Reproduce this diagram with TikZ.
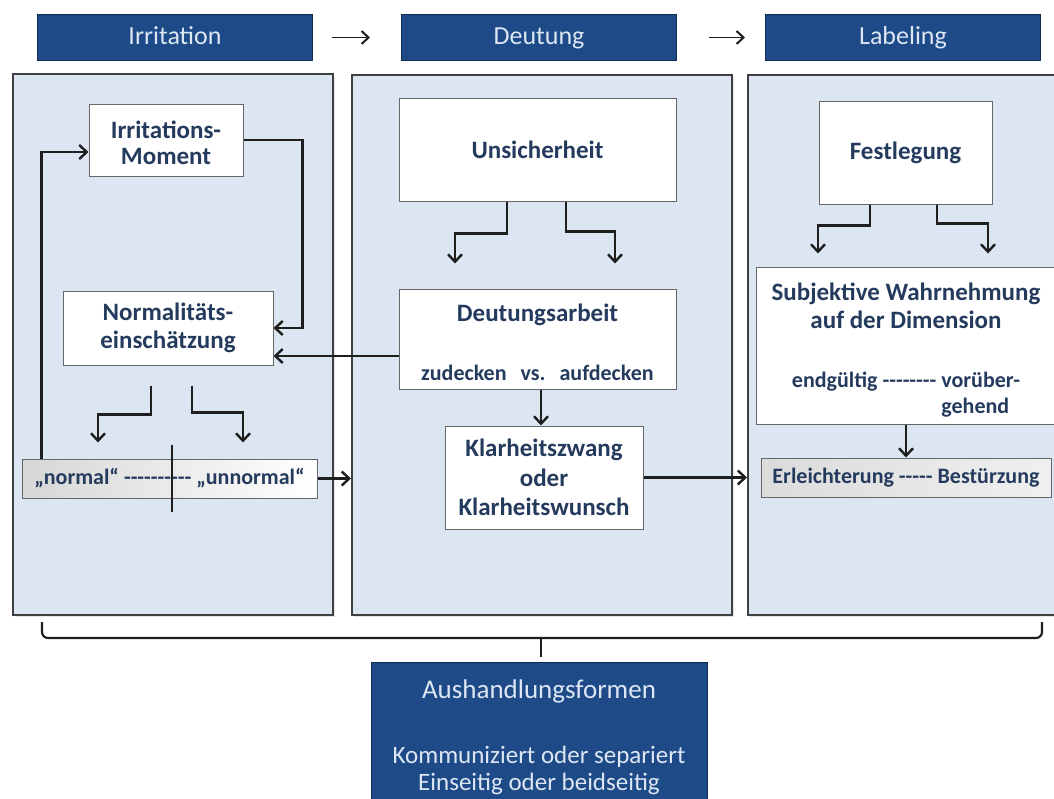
\documentclass[tikz,border=0pt]{standalone}
\usepackage{fontspec}
\setmainfont{Carlito}[Ligatures=TeXOff]
\usetikzlibrary{positioning,calc,arrows.meta,shadows}

\definecolor{headblue}{HTML}{1E4B87}
\definecolor{panelblue}{HTML}{DCE6F2}
\definecolor{textnavy}{HTML}{243B5E}
\definecolor{headtext}{HTML}{DDE7F4}
\definecolor{linegray}{HTML}{1E1E1E}

\begin{document}
\begin{tikzpicture}[
    x=1pt, y=-1pt,
    header/.style={rectangle, draw=headblue!60!black, line width=1pt, fill=headblue, text=headtext, font=\fontsize{26}{30}\selectfont, minimum width=275pt, minimum height=46pt, inner sep=0pt, text height=18pt, text depth=5pt},
    panel/.style={rectangle, draw=black!75, line width=2pt, fill=panelblue, anchor=north west, drop shadow={opacity=0.2, shadow xshift=1.5pt, shadow yshift=-1.5pt}},
    block/.style={rectangle, draw=black!60, line width=1pt, fill=white, text=textnavy, font=\fontsize{25}{28}\selectfont\bfseries, align=center, inner sep=0pt},
    scalebox/.style={block, left color=black!16, right color=white, font=\fontsize{22}{26}\selectfont\bfseries},
    darkbox/.style={rectangle, draw=headblue!60!black, line width=1pt, fill=headblue, text=headtext, align=center, inner sep=0pt},
    arrow/.style={-{Straight Barb[length=7.5pt, width=14pt, line width=2.4pt]}, line width=2.1pt, draw=linegray},
    thinarrow/.style={-{Straight Barb[length=7pt, width=13pt, line width=2pt]}, line width=1.5pt, draw=linegray},
    wire/.style={line width=2.1pt, draw=linegray}
]
\clip (0,0) rectangle (1054,798);
\fill[white] (0,0) rectangle (1054,798);

% Headers
\node[header] (hirr) at (175,37.5) {Irritation};
\node[header] (hdeut) at (539,37.5) {Deutung};
\node[header] (hlab) at (903,37.5) {Labeling};
\draw[thinarrow, shorten <=19pt, shorten >=31pt] (hirr) -- (hdeut);
\draw[thinarrow, shorten <=32pt, shorten >=20pt] (hdeut) -- (hlab);

% Panels
\node[panel, minimum width=320pt, minimum height=541pt] (pirr) at (12,73) {};
\node[panel, minimum width=380pt, minimum height=540pt] (pdeut) at (351,74) {};
\node[panel, minimum width=320pt, minimum height=540pt] (plab) at (747,74) {};

% Irritation
\node[block, minimum width=154pt, minimum height=72pt, font=\fontsize{25}{26.5}\selectfont\bfseries] (moment) at (166,140) {\rule{0pt}{23pt}Irritations-\\Moment};
\node[block, minimum width=210pt, minimum height=74pt] (normal) at (168,328) {Normalitäts-\\einschätzung};
\node[scalebox, minimum width=295pt, minimum height=39pt] (scale) at (169.5,478.5) {„normal“ ---------- „unnormal“};
\draw[wire] ($(scale.north)+(2.5,-14)$) -- ($(scale.south)+(2.5,13)$);

\draw[arrow] (moment.east) -- ++(59,0) |- (normal.east);
\draw[arrow] ($(scale.north west)+(20,0)$) |- ([yshift=-12pt]moment.west);
\draw[arrow] ($(normal.south)+(-17,20)$) -- ++(0,29) -| ++(-53,28);
\draw[arrow] ($(normal.south)+(24,20)$) -- ++(0,27) -| ++(51,30);
\draw[arrow] (scale.east) -- (scale.east -| pdeut.west);

% Deutung
\node[block, minimum width=277pt, minimum height=103pt] (unsich) at (537.5,149.5) {Unsicherheit};
\node[block, minimum width=277pt, minimum height=100pt, font=\fontsize{22}{26}\selectfont\bfseries] (arbeit) at (537.5,339) {\rule{0pt}{24pt}{\fontsize{25}{28}\selectfont Deutungsarbeit}\\[33pt]zudecken\hspace{14pt}vs.\hspace{14pt}aufdecken};
\node[block, minimum width=198pt, minimum height=103pt, font=\fontsize{25}{29.5}\selectfont\bfseries] (klar) at (544,477.5) {Klarheitszwang\\oder\\Klarheitswunsch};

\draw[arrow] ($(unsich.south)+(-30.5,0)$) -- ++(0,32) -| ++(-52,30);
\draw[arrow] ($(unsich.south)+(28.5,0)$) -- ++(0,30) -| ++(49,32);
\draw[arrow] ([yshift=-17pt]arbeit.west) -- ([yshift=-17pt]arbeit.west -| normal.east);
\draw[arrow] ([xshift=3.5pt]arbeit.south) -- ([xshift=3.5pt]arbeit.south |- klar.north);
\draw[arrow] (klar.east) -- (klar.east -| plab.west);

% Labeling
\node[block, minimum width=173pt, minimum height=103pt] (fest) at (905.5,152.5) {Festlegung};
\node[block, minimum width=300pt, minimum height=157pt] (subj) at (906,345.5) {\rule{0pt}{30pt}Subjektive Wahrnehmung\\auf der Dimension\\[31pt]{\fontsize{22}{26}\selectfont endgültig -------- \begin{tabular}[t]{@{}l@{}}vorüber-\\gehend\end{tabular}}};
\node[scalebox, left color=black!14, right color=black!6, minimum width=290pt, minimum height=39pt] (erl) at (906,477.5) {Erleichterung ----- Bestürzung};

\draw[arrow] ($(fest.south)+(-35.5,0)$) -- ++(0,21) -| ++(-52,28);
\draw[arrow] ($(fest.south)+(31.5,0)$) -- ++(0,19) -| ++(51,30);
\draw[arrow] (subj.south) -- (subj.south |- erl.north);

% Brace and result
\coordinate (bl) at (42,622);
\coordinate (br) at (1042,622);
\draw[wire, rounded corners=6pt] (bl) -- ++(0,16) -| (br);
\node[darkbox, minimum width=336pt, minimum height=150pt, font=\fontsize{25}{27}\selectfont] (aus) at (539,737) {{\fontsize{27}{27}\selectfont Aushandlungsformen}\\[38pt]Kommuniziert oder separiert\\Einseitig oder beidseitig};
\draw[wire] ($(aus.north)+(2,-24)$) -- ($(aus.north)+(2,-5)$);

\end{tikzpicture}
\end{document}
